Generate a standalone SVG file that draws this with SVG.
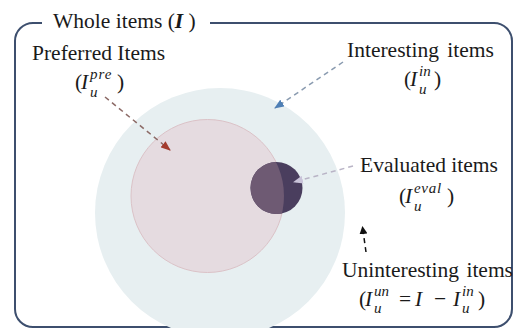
<svg xmlns="http://www.w3.org/2000/svg" width="513" height="328" viewBox="0 0 513 328">
<style>
text{font-family:"Liberation Serif","Times New Roman",serif;fill:#1a1a1a}
.t{font-size:21.5px}
.m{font-size:21.5px;font-style:italic}
.s{font-size:15px;font-style:italic}
.u{font-size:21.5px}
.dash{fill:none;stroke-width:1.5;stroke-dasharray:5 4}
</style>
<defs>
<marker id="ar" markerWidth="10" markerHeight="8" refX="9" refY="4" orient="auto" markerUnits="userSpaceOnUse"><path d="M0,0 L10,4 L0,8 Z" fill="#a33b2e"/></marker>
<marker id="ab" markerWidth="10" markerHeight="8" refX="9" refY="4" orient="auto" markerUnits="userSpaceOnUse"><path d="M0,0 L10,4 L0,8 Z" fill="#4f7fb5"/></marker>
<marker id="al" markerWidth="10" markerHeight="8" refX="9" refY="4" orient="auto" markerUnits="userSpaceOnUse"><path d="M0,0 L10,4 L0,8 Z" fill="#c9c3d9"/></marker>
<marker id="ak" markerWidth="8" markerHeight="8" refX="7" refY="4" orient="auto" markerUnits="userSpaceOnUse"><path d="M0,0 L8,4 L0,8 Z" fill="#111"/></marker>
<clipPath id="pinkclip"><circle cx="207.5" cy="196" r="76.5"/></clipPath>
</defs>
<rect width="513" height="328" fill="#fff"/>
<g id="frame">
<path d="M42,23 H33 A18,18 0 0 0 15,41 V309 A18,18 0 0 0 33,327 H494 A18,18 0 0 0 512,309 V41 A18,18 0 0 0 494,23 H210" fill="none" stroke="#3d4f6e" stroke-width="2"/>
<text class="t" x="53" y="28">Whole items (<tspan font-weight="bold" font-style="italic">I</tspan> )</text>
</g>
<g id="interesting">
<circle cx="220" cy="213" r="125" fill="#e7eff1"/>
</g>
<g id="preferred">
<circle cx="207.5" cy="196" r="76.5" fill="#e5dbe0" stroke="#dbc2c7" stroke-width="1"/>
</g>
<g id="evaluated">
<circle cx="276.5" cy="188" r="26" fill="#4a3e5e"/>
<circle cx="276.5" cy="188" r="26" fill="#6e5a73" clip-path="url(#pinkclip)"/>
</g>
<g id="connectors">
<line class="dash" x1="105" y1="97" x2="170" y2="150" stroke="#8c6a66" marker-end="url(#ar)"/>
<line class="dash" x1="343" y1="62" x2="275" y2="108" stroke="#8a9bb0" marker-end="url(#ab)"/>
<line class="dash" x1="353" y1="166" x2="294" y2="182" stroke="#b9b4c6" marker-end="url(#al)"/>
<line class="dash" x1="366" y1="252" x2="362.5" y2="227" stroke="#111" stroke-width="1.2" stroke-dasharray="3 3" marker-end="url(#ak)"/>
</g>
<g id="label-preferred">
<text class="t" x="32" y="60">Preferred Items</text>
<text class="u" x="75" y="89">(</text>
<text class="m" x="81" y="89">I</text>
<text class="s" x="90" y="79" letter-spacing="1">pre</text>
<text class="s" x="90" y="97">u</text>
<text class="u" x="117" y="89">)</text>
</g>
<g id="label-interesting">
<text class="t" x="347" y="57" word-spacing="3">Interesting items</text>
<text class="u" x="404" y="86">(</text>
<text class="m" x="410" y="86">I</text>
<text class="s" x="419" y="76">in</text>
<text class="s" x="419" y="94">u</text>
<text class="u" x="434" y="86">)</text>
</g>
<g id="label-evaluated">
<text class="t" x="360" y="172">Evaluated items</text>
<text class="u" x="399" y="203">(</text>
<text class="m" x="405" y="203">I</text>
<text class="s" x="414" y="193" letter-spacing="0.7">eval</text>
<text class="s" x="414" y="211">u</text>
<text class="u" x="447" y="203">)</text>
</g>
<g id="label-uninteresting">
<text class="t" x="342" y="277" font-size="21" word-spacing="2">Uninteresting items</text>
<text class="u" x="359" y="306">(</text>
<text class="m" x="365" y="306">I</text>
<text class="s" x="374" y="296">un</text>
<text class="s" x="374" y="313">u</text>
<text class="u" x="399" y="306">=</text>
<text class="m" x="415" y="306">I</text>
<text class="u" x="434" y="306">−</text>
<text class="m" x="453" y="306">I</text>
<text class="s" x="462" y="296">in</text>
<text class="s" x="462" y="313">u</text>
<text class="u" x="478" y="306">)</text>
</g>
</svg>
